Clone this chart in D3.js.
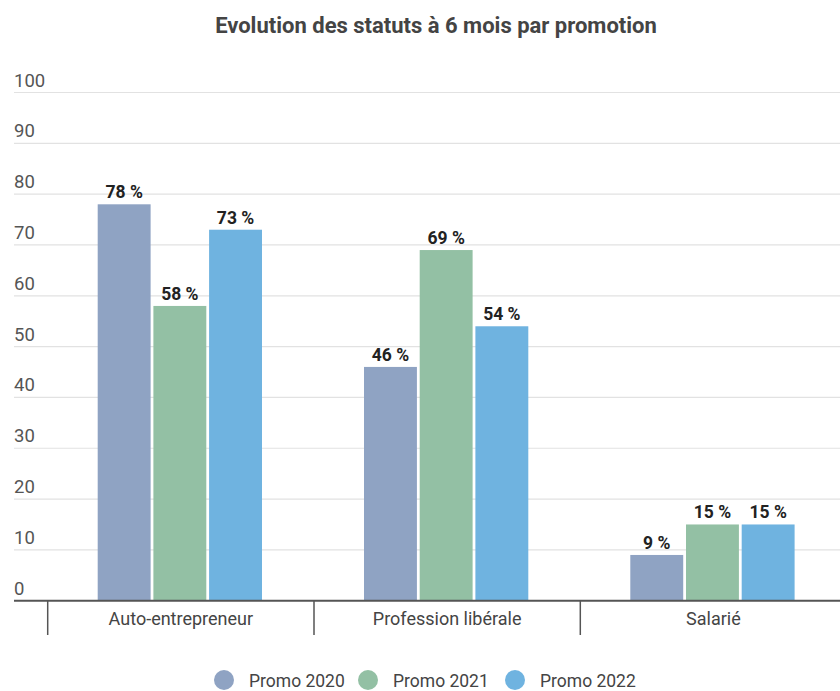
<!DOCTYPE html>
<html>
<head>
<meta charset="utf-8">
<script src="https://cdn.jsdelivr.net/npm/d3@7"></script>
<style>
  html, body { margin: 0; padding: 0; background: #fff; }
  svg { display: block; font-family: Roboto, "Noto Sans", sans-serif; }
</style>
</head>
<body>
<svg id="chart" width="840" height="691"></svg>
<script>
const title = "Evolution des statuts à 6 mois par promotion";
const categories = ["Auto-entrepreneur", "Profession libérale", "Salarié"];
const seriesNames = ["Promo 2020", "Promo 2021", "Promo 2022"];
const promo2020 = [78, 46, 9];
const promo2021 = [58, 69, 15];
const promo2022 = [73, 54, 15];
const yTicks = [0, 10, 20, 30, 40, 50, 60, 70, 80, 90, 100];
const colors = ["#8fa3c3", "#93c0a4", "#6fb3e0"];

const seriesValues = [promo2020, promo2021, promo2022];

const svg = d3.select("#chart");
const gridLeft = 14, gridRight = 840;

const y = d3.scaleLinear().domain([0, 100]).range([600.7, 92.5]);
const x0 = d3.scaleBand().domain(categories).range([47.7, 47.7 + 266.3 * 3]).paddingInner(0).paddingOuter(0);
const x1 = d3.scaleBand().domain(seriesNames).range([50, 266.3 - 52]).paddingInner(0.05).paddingOuter(0);

// Title
svg.append("text")
  .attr("x", 436).attr("y", 33)
  .attr("text-anchor", "middle")
  .attr("font-size", 22).attr("font-weight", 700)
  .attr("fill", "#444")
  .text(title);

// Gridlines and y labels
const gy = svg.append("g");
yTicks.forEach(t => {
  if (t !== 0) {
    gy.append("line")
      .attr("x1", gridLeft).attr("x2", gridRight)
      .attr("y1", y(t)).attr("y2", y(t))
      .attr("stroke", "#e2e2e2").attr("stroke-width", 1.2);
  }
  gy.append("text")
    .attr("x", gridLeft).attr("y", y(t) - 6)
    .attr("font-size", 18.5).attr("fill", "#555")
    .text(t);
});

// Bars
const groups = svg.append("g").selectAll("g")
  .data(categories)
  .join("g")
  .attr("transform", c => `translate(${x0(c)},0)`);

groups.selectAll("rect")
  .data((c, i) => seriesNames.map((s, j) => ({ s, v: seriesValues[j][i], j })))
  .join("rect")
  .attr("x", d => x1(d.s))
  .attr("width", x1.bandwidth())
  .attr("y", d => y(d.v))
  .attr("height", d => y(0) - y(d.v))
  .attr("fill", d => colors[d.j]);

groups.selectAll("text.val")
  .data((c, i) => seriesNames.map((s, j) => ({ s, v: seriesValues[j][i], j })))
  .join("text")
  .attr("class", "val")
  .attr("x", d => x1(d.s) + x1.bandwidth() / 2)
  .attr("y", d => y(d.v) - 6)
  .attr("text-anchor", "middle")
  .attr("font-size", 17.5).attr("font-weight", 700)
  .attr("fill", "#222")
  .text(d => d.v + " %");

// Baseline
svg.append("line")
  .attr("x1", gridLeft).attr("x2", gridRight)
  .attr("y1", y(0)).attr("y2", y(0))
  .attr("stroke", "#555").attr("stroke-width", 2);

// Category dividers & labels
categories.forEach(c => {
  const dx = x0(c);
  svg.append("line")
    .attr("x1", dx).attr("x2", dx)
    .attr("y1", y(0)).attr("y2", 635)
    .attr("stroke", "#555").attr("stroke-width", 1.5);
  svg.append("text")
    .attr("x", dx + x0.bandwidth() / 2)
    .attr("y", 625)
    .attr("text-anchor", "middle")
    .attr("font-size", 18).attr("fill", "#444")
    .text(c);
});

// Legend
const legendX = [224, 368, 515];
seriesNames.forEach((s, i) => {
  svg.append("circle")
    .attr("cx", legendX[i]).attr("cy", 680).attr("r", 10)
    .attr("fill", colors[i]);
  svg.append("text")
    .attr("x", legendX[i] + 25).attr("y", 686.5)
    .attr("font-size", 17.5).attr("fill", "#444")
    .text(s);
});
</script>
</body>
</html>
